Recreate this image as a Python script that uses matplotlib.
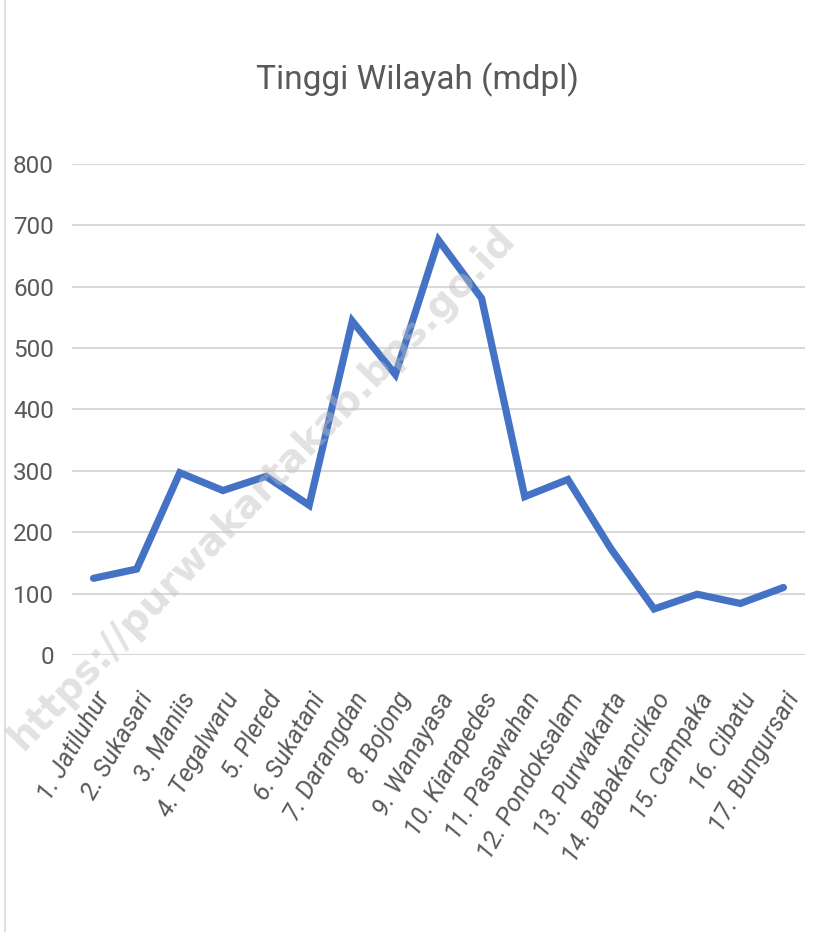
import matplotlib
matplotlib.use("Agg")
import matplotlib.pyplot as plt

categories = ["1. Jatiluhur", "2. Sukasari", "3. Maniis", "4. Tegalwaru", "5. Plered",
              "6. Sukatani", "7. Darangdan", "8. Bojong", "9. Wanayasa", "10. Kiarapedes",
              "11. Pasawahan", "12. Pondoksalam", "13. Purwakarta", "14. Babakancikao",
              "15. Campaka", "16. Cibatu", "17. Bungursari"]
values = [125, 140, 297, 268, 291, 244, 544, 457, 676, 581, 258, 286, 173, 75, 99, 84, 110]
yticks = [0, 100, 200, 300, 400, 500, 600, 700, 800]

font = "Roboto"

W, H = 827, 932
fig = plt.figure(figsize=(W / 100, H / 100), dpi=100)
ax = fig.add_axes([72 / W, 1 - 655 / H, (805 - 72) / W, (655 - 164) / H])

x = list(range(len(categories)))
ax.plot(x, values, color="#4472C4", lw=5.2, solid_joinstyle="miter", solid_capstyle="round", zorder=3)

ax.set_xlim(-0.5, len(categories) - 0.5)
ax.set_ylim(0, 800)
ax.set_yticks(yticks)
ax.set_yticklabels([str(v) for v in yticks], fontsize=17.5, color="#595959", family=font)
ax.set_xticks(x)
ax.set_xticklabels(categories, rotation=60, ha="right", rotation_mode="anchor",
                   fontsize=18, style="italic", color="#595959", family=font)
ax.tick_params(axis="both", length=0)
ax.tick_params(axis="y", pad=13)
ax.tick_params(axis="x", pad=24)
ax.grid(axis="y", color="#D9D9D9", lw=1.5)
ax.set_axisbelow(True)
for s in ax.spines.values():
    s.set_visible(False)

fig.text(417 / W, 1 - 80 / H, "Tinggi Wilayah (mdpl)", ha="center", va="center",
         fontsize=24, color="#595959", family=font)

# left border of chart area
fig.add_artist(plt.Line2D([5 / W, 5 / W], [0, 1], color="#D9D9D9", lw=1.2))

# watermark
fig.text(262 / W, 1 - 488 / H, "https://purwakartakab.bps.go.id", rotation=46,
         ha="center", va="center", fontsize=28, fontweight="bold", color="#BFBFBF",
         alpha=0.45, zorder=10)

fig.savefig("out.png", dpi=100)
